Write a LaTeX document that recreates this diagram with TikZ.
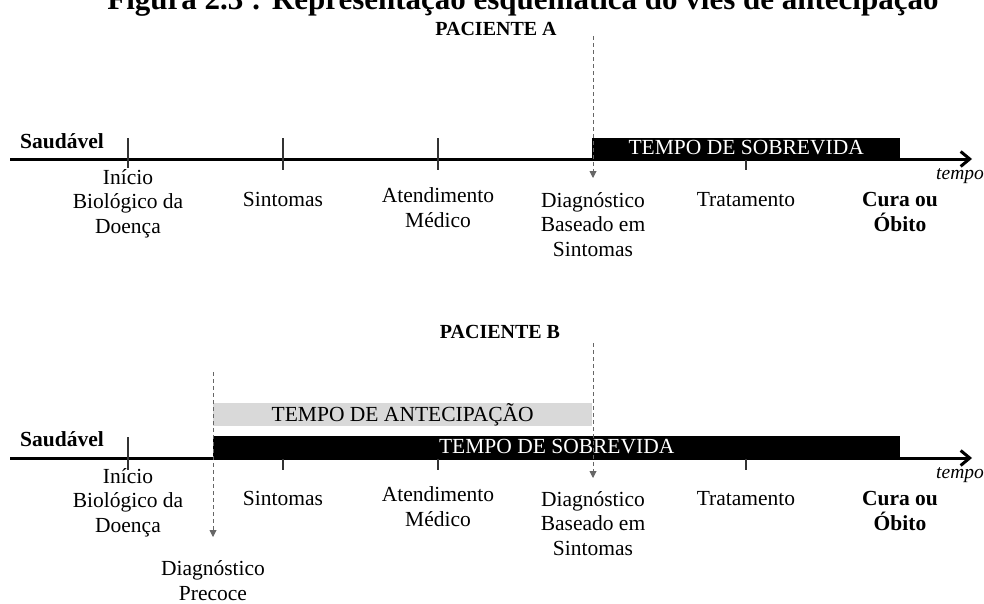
\documentclass[tikz,border=0pt]{standalone}
\usepackage{fontspec}
\setmainfont{Liberation Serif}
\usetikzlibrary{arrows.meta}
\begin{document}
\begin{tikzpicture}[x=1pt,y=-1pt,
  lbl/.style={anchor=base, align=center, inner sep=0pt, font=\fontsize{21.5}{24.5}\selectfont},
  lblb/.style={lbl, font=\fontsize{21.5}{24.5}\selectfont\bfseries},
  head/.style={anchor=base, inner sep=0pt, font=\fontsize{20}{24}\selectfont\bfseries},
  timeaxis/.style={line width=3pt, -{Straight Barb[length=9pt,width=15pt]}},
  tickmark/.style={draw=black!80, line width=1.1pt},
  guide/.style={draw=black!60, line width=0.9pt, dash pattern=on 4pt off 3pt,
    -{Triangle[length=7pt,width=7pt]}},
  survbar/.style={fill=black, text=white, inner sep=0pt, anchor=south west,
    minimum height=20pt, font=\fontsize{21.5}{25}\selectfont},
  leadbar/.style={fill=black!15, text=black, inner sep=0pt, anchor=south west,
    minimum height=21pt, font=\fontsize{21.5}{25}\selectfont},
  timelbl/.style={anchor=base west, inner sep=0pt, font=\fontsize{19.5}{24}\selectfont\itshape}
]
\useasboundingbox (0,0) rectangle (984,603);
\clip (0,0) rectangle (984,603);

% caption
\node[anchor=base, inner sep=0pt, font=\fontsize{31}{35}\selectfont\bfseries] (caption)
  at (523,9) {Figura 2.3 : Representação esquemática do viés de antecipação};

% ---------------- Patient A ----------------
\node[head] (pacA) at (496,35) {PACIENTE A};

\node[survbar, minimum width=308pt] (survA) at (592,158) {TEMPO DE SOBREVIDA};

\coordinate (axA0) at (10,159);
\coordinate (axA1) at (972,159);
\draw[timeaxis] (axA0) -- (axA1);

\draw[tickmark] (128,138) -- (128,168);
\draw[tickmark] (283,138) -- (283,170);
\draw[tickmark] (438,138) -- (438,170);
\draw[tickmark] (746,160) -- (746,170);

\coordinate (dA0) at (593,36);
\coordinate (dA1) at (593,178);
\draw[guide] (dA0) -- (dA1);

\node[lblb, anchor=base west] (saudA) at (20,148) {Saudável};
\node[timelbl] (tempoA) at (936,179) {tempo};

% multi-line labels sit on the baseline of their last line
\node[lbl] (inicioA) at (128,233) {Início\\Biológico da\\Doença};
\node[lbl] (sintA) at (283,206) {Sintomas};
\node[lbl] (atendA) at (438,227) {Atendimento\\Médico};
\node[lbl] (diagA) at (593,256) {Diagnóstico\\Baseado em\\Sintomas};
\node[lbl] (tratA) at (746,206) {Tratamento};
\node[lblb] (curaA) at (900,231) {Cura ou\\Óbito};

% ---------------- Patient B ----------------
\node[head] (pacB) at (500,338) {PACIENTE B};

\node[leadbar, minimum width=379pt] (leadB) at (213,426) {TEMPO DE ANTECIPAÇÃO};
\node[survbar, minimum width=687pt, minimum height=21pt] (survB) at (213,457) {TEMPO DE SOBREVIDA};

\coordinate (axB0) at (10,458);
\coordinate (axB1) at (972,458);
\draw[timeaxis] (axB0) -- (axB1);

\draw[tickmark] (128,437) -- (128,470);
\draw[tickmark] (283,459) -- (283,470);
\draw[tickmark] (438,459) -- (438,470);
\draw[tickmark] (746,459) -- (746,470);

\coordinate (dB0) at (593,343);
\coordinate (dB1) at (593,478);
\draw[guide] (dB0) -- (dB1);
\coordinate (dC0) at (213,372);
\coordinate (dC1) at (213,537);
\draw[guide] (dC0) -- (dC1);

\node[lblb, anchor=base west] (saudB) at (20,446) {Saudável};
\node[timelbl] (tempoB) at (936,478) {tempo};

\node[lbl] (inicioB) at (128,532) {Início\\Biológico da\\Doença};
\node[lbl] (sintB) at (283,505) {Sintomas};
\node[lbl] (atendB) at (438,526) {Atendimento\\Médico};
\node[lbl] (diagB) at (593,555) {Diagnóstico\\Baseado em\\Sintomas};
\node[lbl] (tratB) at (746,505) {Tratamento};
\node[lblb] (curaB) at (900,530) {Cura ou\\Óbito};
\node[lbl] (precB) at (213,600) {Diagnóstico\\Precoce};
\end{tikzpicture}
\end{document}
